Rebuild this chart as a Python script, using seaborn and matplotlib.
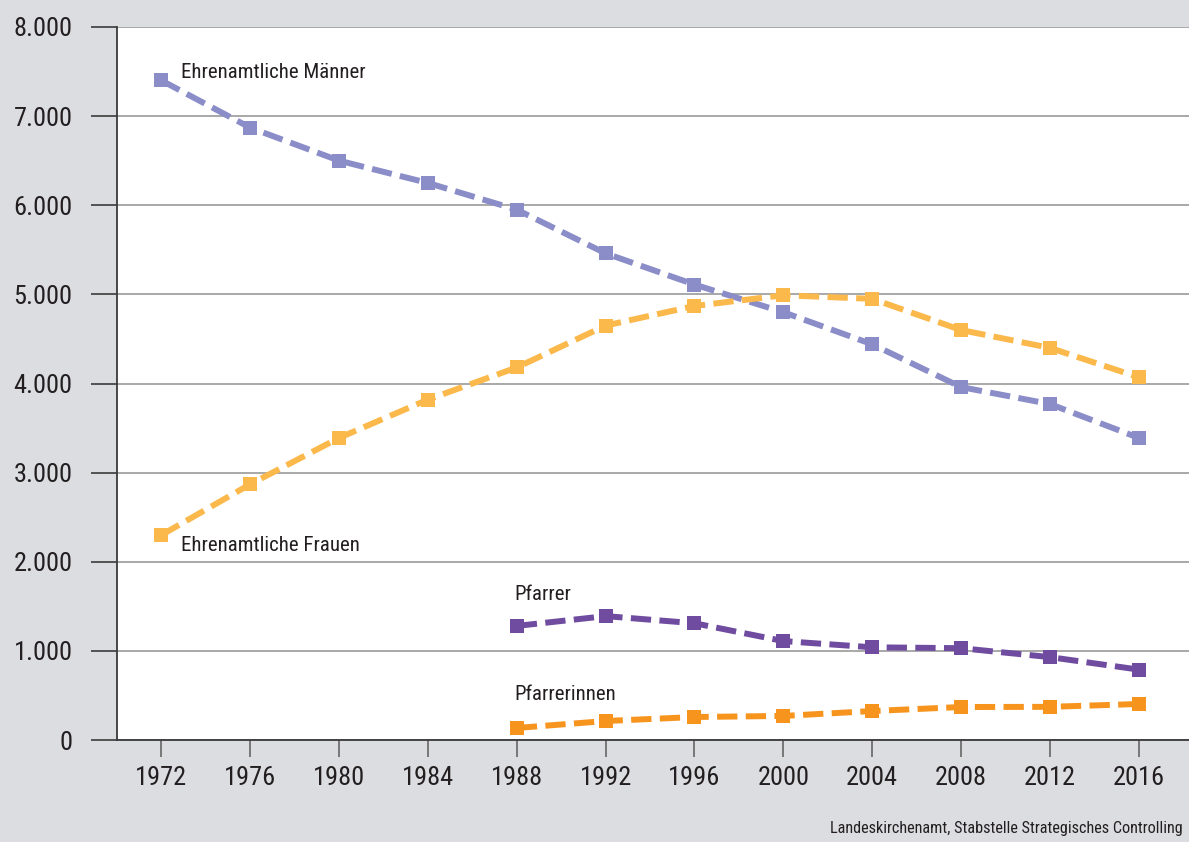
import matplotlib
matplotlib.use("Agg")
import matplotlib.pyplot as plt
from matplotlib import font_manager
import seaborn as sns
import pandas as pd

years = [1972, 1976, 1980, 1984, 1988, 1992, 1996, 2000, 2004, 2008, 2012, 2016]
maenner = [7400, 6870, 6500, 6250, 5950, 5460, 5110, 4800, 4440, 3960, 3770, 3390]
frauen = [2300, 2870, 3390, 3820, 4180, 4650, 4870, 4990, 4950, 4600, 4400, 4070]
years_pf = [1988, 1992, 1996, 2000, 2004, 2008, 2012, 2016]
pfarrer = [1280, 1390, 1310, 1110, 1040, 1030, 930, 790]
pfarrerinnen = [135, 213, 258, 270, 325, 370, 372, 404]
y_ticks = [0, 1000, 2000, 3000, 4000, 5000, 6000, 7000, 8000]
y_labels = ["0", "1.000", "2.000", "3.000", "4.000", "5.000", "6.000", "7.000", "8.000"]
series_names = ["Ehrenamtliche Männer", "Ehrenamtliche Frauen", "Pfarrer", "Pfarrerinnen"]
colors = ["#8a8dc7", "#fbb84b", "#6f4c9f", "#f7941e"]
source = "Landeskirchenamt, Stabstelle Strategisches Controlling"

sns.set_theme(style="white")
installed = {f.name for f in font_manager.fontManager.ttflist}
candidates = ['Liberation Sans Narrow', 'Roboto Condensed', 'DejaVu Sans Condensed',
              'Open Sans Condensed', 'Noto Sans Condensed']
chosen = [c for c in candidates if c in installed]
plt.rcParams['font.family'] = chosen + ['DejaVu Sans']
condensed = len(chosen) > 0
if not condensed:
    plt.rcParams['font.stretch'] = 'condensed'

tick_fs = 19 if condensed else 16
lab_fs = 15 if condensed else 13
src_fs = 11.7 if condensed else 10

df = pd.concat([
    pd.DataFrame({"Jahr": years, "Wert": maenner, "Serie": series_names[0]}),
    pd.DataFrame({"Jahr": years, "Wert": frauen, "Serie": series_names[1]}),
    pd.DataFrame({"Jahr": years_pf, "Wert": pfarrer, "Serie": series_names[2]}),
    pd.DataFrame({"Jahr": years_pf, "Wert": pfarrerinnen, "Serie": series_names[3]}),
], ignore_index=True)

bg = "#dcdde0"
fig = plt.figure(figsize=(11.89, 8.42), dpi=100, facecolor=bg)
ax = fig.add_axes([117/1189, 1 - 740/842, 1 - 117/1189 + 0.01, (740 - 27)/842])
ax.set_facecolor("white")

sns.lineplot(data=df, x="Jahr", y="Wert", hue="Serie", style="Serie",
             palette=dict(zip(series_names, colors)),
             dashes={n: (3.4, 1.4) for n in series_names},
             markers={n: "s" for n in series_names},
             markersize=10, markeredgewidth=0, linewidth=4.3,
             legend=False, ax=ax, zorder=3)

ax.set_xlim(1970, 2018.8)
ax.set_ylim(0, 8000)
ax.set_xticks(years)
ax.set_xticklabels([str(y) for y in years])
ax.set_yticks(y_ticks)
ax.set_yticklabels(y_labels)
ax.set_xlabel("")
ax.set_ylabel("")

ax.grid(axis="y", color="#9a9a9a", linewidth=1.2, zorder=0)
ax.grid(axis="x", visible=False)
for s in ["top", "right"]:
    ax.spines[s].set_visible(False)
for s in ["left", "bottom"]:
    ax.spines[s].set_color("#3a3a3a")
    ax.spines[s].set_linewidth(1.3)

ax.tick_params(axis="y", length=19, width=1.2, color="#3a3a3a", pad=13,
               labelsize=tick_fs, labelcolor="#231f20", direction="out", left=True)
ax.tick_params(axis="x", length=12, width=1.2, color="#666666", pad=7,
               labelsize=tick_fs, labelcolor="#231f20", direction="out", bottom=True)

txt_kw = dict(fontsize=lab_fs, color="#231f20", va="center", ha="left", zorder=5)
ax.text(1972.86, 7484, series_names[0], **txt_kw)
ax.text(1972.86, 2177, series_names[1], **txt_kw)
ax.text(1987.91, 1638, series_names[2], **txt_kw)
ax.text(1987.91, 505, series_names[3], **txt_kw)

fig.text(1183/1189, 1 - 829/842, source, ha="right", va="center",
         fontsize=src_fs, color="#231f20")

fig.savefig("out.png", dpi=100, facecolor=bg)
